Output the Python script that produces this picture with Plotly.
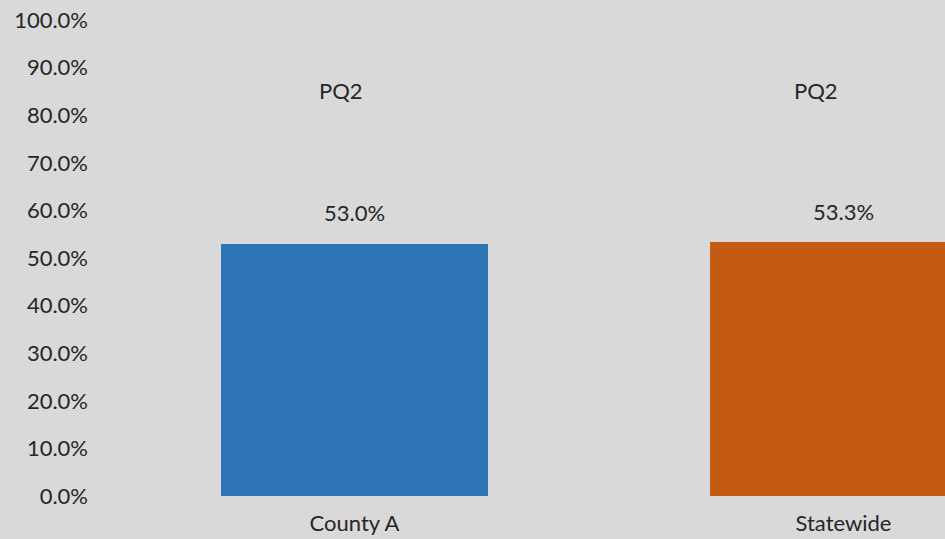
import plotly.graph_objects as go

categories = ["County A", "Statewide"]
values = [0.530, 0.533]
colors = ["#2E75B6", "#C55A11"]
series_label = "PQ2"
y_ticks = [i / 10 for i in range(11)]
y_tick_labels = [f"{v*100:.1f}%" for v in y_ticks]

FONT = "Lato, Calibri, Carlito, sans-serif"
TXT = "#262626"
FS = 22

fig = go.Figure()
fig.add_trace(go.Bar(
    x=list(range(len(categories))),
    y=values,
    marker=dict(color=colors, line=dict(width=0)),
    width=0.548,
    hoverinfo="skip",
))

annotations = []
for i, v in enumerate(values):
    annotations.append(dict(x=i, y=v, xref="x", yref="y", text=f"{v*100:.1f}%",
                            showarrow=False, yshift=31, font=dict(size=FS, color=TXT, family=FONT)))
pq_shift = [-14, -28]
for i in range(len(categories)):
    annotations.append(dict(x=i, y=0.851, xref="x", yref="y", text=series_label,
                            showarrow=False, xshift=pq_shift[i], font=dict(size=FS, color=TXT, family=FONT)))

fig.update_layout(
    width=945, height=539,
    paper_bgcolor="#D9D9D9", plot_bgcolor="#D9D9D9",
    margin=dict(l=110, r=0, t=20, b=43),
    showlegend=False,
    bargap=0,
    annotations=annotations,
    font=dict(family=FONT, size=FS, color=TXT),
)
fig.update_xaxes(
    range=[-0.5, -0.5 + 835 / 489],
    tickvals=list(range(len(categories))), ticktext=categories,
    showgrid=False, zeroline=False, showline=False,
    tickfont=dict(size=FS, color=TXT, family=FONT),
    ticks="", ticklabelstandoff=12,
)
fig.update_yaxes(
    range=[0, 1],
    tickvals=y_ticks, ticktext=y_tick_labels,
    showgrid=False, zeroline=False, showline=False,
    tickfont=dict(size=FS, color=TXT, family=FONT),
    ticks="", ticklabelstandoff=21,
)

fig.write_html("out.html", config={"displayModeBar": False},
               post_script="document.body.style.margin='0';")
